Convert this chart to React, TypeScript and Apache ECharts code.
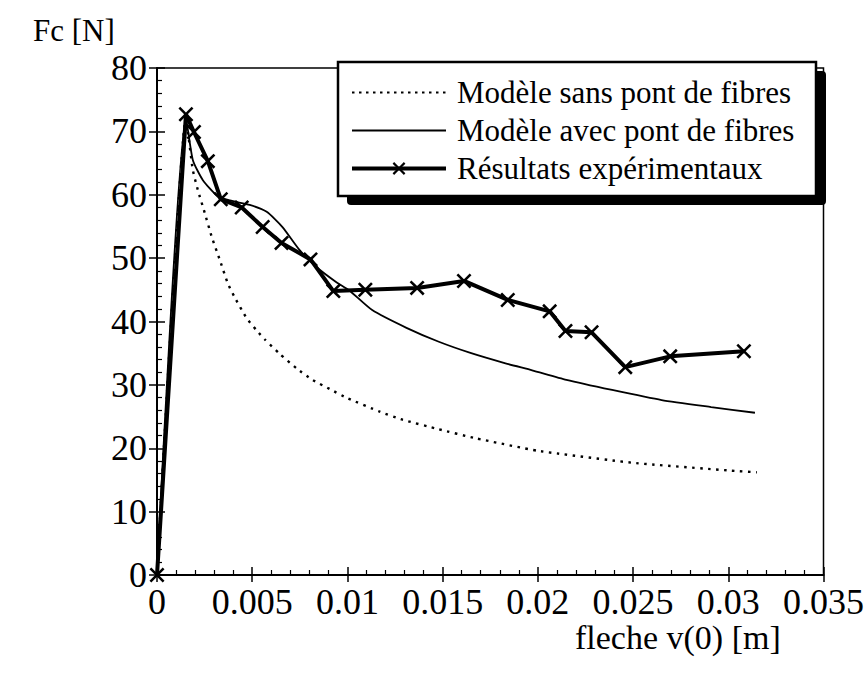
import React, { useEffect, useRef } from "react";
import * as echarts from "echarts";

// Modèle sans pont de fibres (dotted)
const xSans = [0, 0.00152, 0.00188, 0.00215, 0.00251, 0.00288, 0.0033, 0.00372, 0.00408, 0.00471, 0.00523, 0.00565, 0.00644, 0.00733, 0.00816, 0.00916, 0.01, 0.01167, 0.0129, 0.0148, 0.0167, 0.02, 0.025, 0.03, 0.0315];
const ySans = [0, 72.1, 63.9, 60.7, 57.1, 53.3, 49.7, 46.0, 43.8, 40.5, 38.6, 37.2, 34.9, 32.6, 30.8, 29.2, 27.9, 25.8, 24.5, 23.0, 21.6, 19.6, 17.7, 16.5, 16.2];

// Modèle avec pont de fibres (solid thin)
const xAvec = [0, 0.00152, 0.00188, 0.00241, 0.00314, 0.00382, 0.00487, 0.00576, 0.00659, 0.00748, 0.00837, 0.00942, 0.0101, 0.0113, 0.0131, 0.0148, 0.0165, 0.0183, 0.0197, 0.0215, 0.0239, 0.0265, 0.0291, 0.0314];
const yAvec = [0, 72.1, 65.5, 62.3, 59.9, 59.1, 58.4, 57.3, 54.9, 51.3, 48.6, 46.2, 44.9, 41.8, 39.0, 36.8, 35.0, 33.4, 32.3, 30.8, 29.2, 27.6, 26.5, 25.6];

// Résultats expérimentaux
const xExp = [0, 0.00152, 0.00194, 0.00267, 0.00335, 0.00445, 0.00555, 0.00654, 0.00806, 0.00926, 0.01094, 0.01366, 0.01612, 0.01842, 0.02062, 0.02145, 0.02282, 0.02459, 0.02695, 0.03082];
const yExp = [0, 72.7, 69.9, 65.3, 59.3, 58.0, 54.9, 52.4, 49.8, 44.8, 45.0, 45.3, 46.4, 43.4, 41.6, 38.5, 38.3, 32.8, 34.5, 35.3];

const seriesNames = ["Modèle sans pont de fibres", "Modèle avec pont de fibres", "Résultats expérimentaux"];
const xTitle = "fleche v(0) [m]";
const yTitle = "Fc [N]";

const FONT = '"Liberation Serif", "Times New Roman", serif';
const XMARK = "path://M0,1.2 L1.2,0 L5,3.8 L8.8,0 L10,1.2 L6.2,5 L10,8.8 L8.8,10 L5,6.2 L1.2,10 L0,8.8 L3.8,5 Z";

const zip = (xs: number[], ys: number[]) => xs.map((x, i) => [x, ys[i]]);

export default function App() {
  const ref = useRef<HTMLDivElement>(null);
  useEffect(() => {
    if (!ref.current) return;
    const chart = echarts.init(ref.current, null, { renderer: "svg" });
    const tickLabel = { color: "#000", fontFamily: FONT, fontSize: 36, lineHeight: 30 };
    const baseX = {
      type: "value",
      min: 0,
      max: 0.035,
      interval: 0.005,
      position: "bottom",
      splitLine: { show: false },
    };
    const baseY = {
      type: "value",
      min: 0,
      max: 80,
      interval: 10,
      position: "left",
      splitLine: { show: false },
    };
    chart.setOption({
      animation: false,
      backgroundColor: "#fff",
      grid: {
        left: 157,
        right: 41,
        top: 68,
        bottom: 100,
        show: true,
        borderColor: "#000",
        borderWidth: 1.5,
        backgroundColor: "transparent",
      },
      xAxis: [
        {
          ...baseX,
          axisLine: { lineStyle: { color: "#000", width: 2 } },
          axisTick: { inside: true, length: 8, lineStyle: { color: "#000", width: 1.5 } },
          minorTick: { show: true, splitNumber: 5, length: 5, lineStyle: { color: "#000", width: 1.2 } },
          axisLabel: {
            ...tickLabel,
            margin: 12,
            formatter: (v: number) => String(parseFloat(v.toFixed(3))),
          },
        },
        {
          ...baseX,
          axisLine: { show: false },
          axisTick: { inside: false, length: 7, lineStyle: { color: "#000", width: 1.5 } },
          axisLabel: { show: false },
        },
      ],
      yAxis: [
        {
          ...baseY,
          axisLine: { lineStyle: { color: "#000", width: 2 } },
          axisTick: { inside: true, length: 8, lineStyle: { color: "#000", width: 1.5 } },
          minorTick: { show: true, splitNumber: 5, length: 5, lineStyle: { color: "#000", width: 1.2 } },
          axisLabel: { ...tickLabel, margin: 10 },
        },
        {
          ...baseY,
          axisLine: { show: false },
          axisTick: { inside: false, length: 8, lineStyle: { color: "#000", width: 1.5 } },
          axisLabel: { show: false },
        },
      ],
      legend: {
        orient: "vertical",
        left: 350,
        top: 77,
        padding: 0,
        itemGap: 7,
        itemWidth: 94,
        itemHeight: 16,
        z: 20,
        textStyle: { color: "#000", fontFamily: FONT, fontSize: 31, lineHeight: 30, padding: [0, 0, 0, 6] },
        data: [
          { name: seriesNames[0], itemStyle: { opacity: 0 }, lineStyle: { width: 2, type: [2.5, 4.5] } },
          { name: seriesNames[1], itemStyle: { opacity: 0 }, lineStyle: { width: 1.8 } },
          { name: seriesNames[2], lineStyle: { width: 4 } },
        ],
      },
      graphic: [
        { type: "rect", z: 10, shape: { x: 347, y: 71, width: 479, height: 134, r: 4 }, style: { fill: "#000" } },
        { type: "rect", z: 11, shape: { x: 338, y: 62, width: 478, height: 134 }, style: { fill: "#fff", stroke: "#000", lineWidth: 2.5 } },
        { type: "text", left: 33, top: 15, style: { text: yTitle, font: `31px ${FONT}`, fill: "#000" } },
        { type: "text", left: 575, top: 620, style: { text: xTitle, font: `34px ${FONT}`, fill: "#000" } },
      ],
      series: [
        {
          name: seriesNames[0],
          type: "line",
          data: zip(xSans, ySans),
          symbol: "none",
          smooth: 0.15,
          itemStyle: { color: "#000" },
          lineStyle: { color: "#000", width: 2.4, type: [2.5, 5.5] },
          z: 3,
        },
        {
          name: seriesNames[1],
          type: "line",
          data: zip(xAvec, yAvec),
          symbol: "none",
          smooth: 0.2,
          itemStyle: { color: "#000" },
          lineStyle: { color: "#000", width: 1.8 },
          z: 3,
        },
        {
          name: seriesNames[2],
          type: "line",
          data: zip(xExp, yExp),
          symbol: XMARK,
          symbolSize: 15,
          showSymbol: true,
          itemStyle: { color: "#000" },
          lineStyle: { color: "#000", width: 4 },
          z: 4,
        },
      ],
    });
    return () => chart.dispose();
  }, []);
  return <div ref={ref} style={{ width: 867, height: 675, position: "absolute", left: 0, top: 0 }} />;
}
